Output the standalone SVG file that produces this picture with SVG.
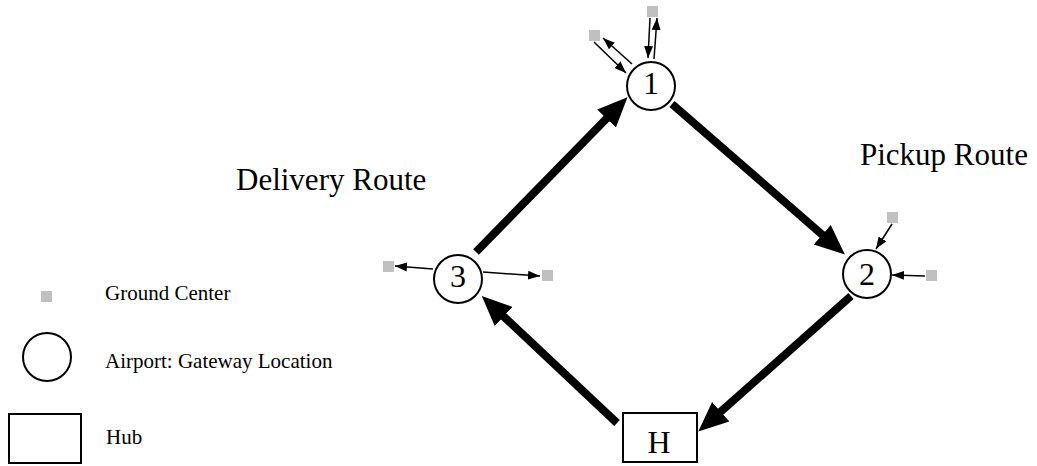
<svg xmlns="http://www.w3.org/2000/svg" width="1037" height="466" viewBox="0 0 1037 466">
  <style>
    .bg { fill: #ffffff; }
    .airport { fill: #ffffff; stroke: #000000; stroke-width: 2; }
    .hub { fill: #ffffff; stroke: #000000; stroke-width: 2; }
    .gc { fill: #c0c0c0; }
    .label { font-family: "Liberation Serif", "Times New Roman", serif; fill: #000000; }
    .node-label { font-size: 32px; text-anchor: middle; }
    .route { font-size: 31px; }
    .legend { font-size: 21px; }
    .route-arrow { stroke: #000000; stroke-width: 8; fill: none; marker-end: url(#bigHead); }
    .feed-arrow { stroke: #000000; stroke-width: 1.5; fill: none; marker-end: url(#smallHead); }
  </style>
  <defs>
    <marker id="bigHead" markerUnits="userSpaceOnUse" markerWidth="31" markerHeight="28" refX="5" refY="14" orient="auto" viewBox="0 0 31 28">
      <path d="M0,1 L30,14 L0,27 z" fill="#000000"/>
    </marker>
    <marker id="smallHead" markerUnits="userSpaceOnUse" markerWidth="13" markerHeight="10" refX="12" refY="5" orient="auto" viewBox="0 0 13 10">
      <path d="M0,0.5 L12,5 L0,9.5 z" fill="#000000"/>
    </marker>
  </defs>

  <rect class="bg" x="0" y="0" width="1037" height="466"/>

  <!-- route connectors and ground-center feeder arrows -->
  <g id="connectors">
    <line class="route-arrow" x1="476" y1="252" x2="610" y2="115"/>
    <line class="route-arrow" x1="672" y1="104" x2="826" y2="238"/>
    <line class="route-arrow" x1="851" y1="296" x2="717" y2="415"/>
    <line class="route-arrow" x1="617" y1="423" x2="500" y2="313"/>

    <!-- airport 1 -->
    <line class="feed-arrow" x1="594" y1="42" x2="626" y2="73"/>
    <line class="feed-arrow" x1="632" y1="64" x2="603" y2="38"/>
    <line class="feed-arrow" x1="650" y1="18" x2="648" y2="58"/>
    <line class="feed-arrow" x1="654" y1="59" x2="657" y2="18"/>
    <!-- airport 2 -->
    <line class="feed-arrow" x1="892" y1="224" x2="876" y2="249"/>
    <line class="feed-arrow" x1="925" y1="276" x2="892" y2="275"/>
    <!-- airport 3 -->
    <line class="feed-arrow" x1="433" y1="269" x2="395" y2="266"/>
    <line class="feed-arrow" x1="483" y1="272" x2="540" y2="276"/>
  </g>

  <!-- ground centers -->
  <g id="ground-centers">
    <rect class="gc" x="589" y="30" width="11" height="11"/>
    <rect class="gc" x="647" y="6" width="11" height="11"/>
    <rect class="gc" x="887" y="212" width="11" height="11"/>
    <rect class="gc" x="926" y="270" width="11" height="11"/>
    <rect class="gc" x="383" y="261" width="11" height="11"/>
    <rect class="gc" x="542" y="270" width="11" height="11"/>
  </g>

  <g id="airport-1">
    <circle class="airport" cx="651" cy="86" r="24"/>
    <text class="label node-label" x="651" y="94">1</text>
  </g>
  <g id="airport-2">
    <circle class="airport" cx="867" cy="274" r="24"/>
    <text class="label node-label" x="867" y="285">2</text>
  </g>
  <g id="airport-3">
    <circle class="airport" cx="458" cy="279" r="24"/>
    <text class="label node-label" x="458" y="287">3</text>
  </g>
  <g id="hub">
    <rect class="hub" x="623" y="413" width="74" height="49"/>
    <text class="label node-label" x="659" y="453">H</text>
  </g>

  <g id="route-labels">
    <text class="label route" x="236" y="190">Delivery Route</text>
    <text class="label route" x="860" y="165">Pickup Route</text>
  </g>

  <g id="legend">
    <rect class="gc" x="41" y="291" width="11" height="11"/>
    <text class="label legend" x="105" y="300">Ground Center</text>
    <circle class="airport" cx="47" cy="357" r="24"/>
    <text class="label legend" x="105" y="368">Airport: Gateway Location</text>
    <rect class="hub" x="9" y="414" width="72" height="49"/>
    <text class="label legend" x="106" y="444">Hub</text>
  </g>
</svg>
